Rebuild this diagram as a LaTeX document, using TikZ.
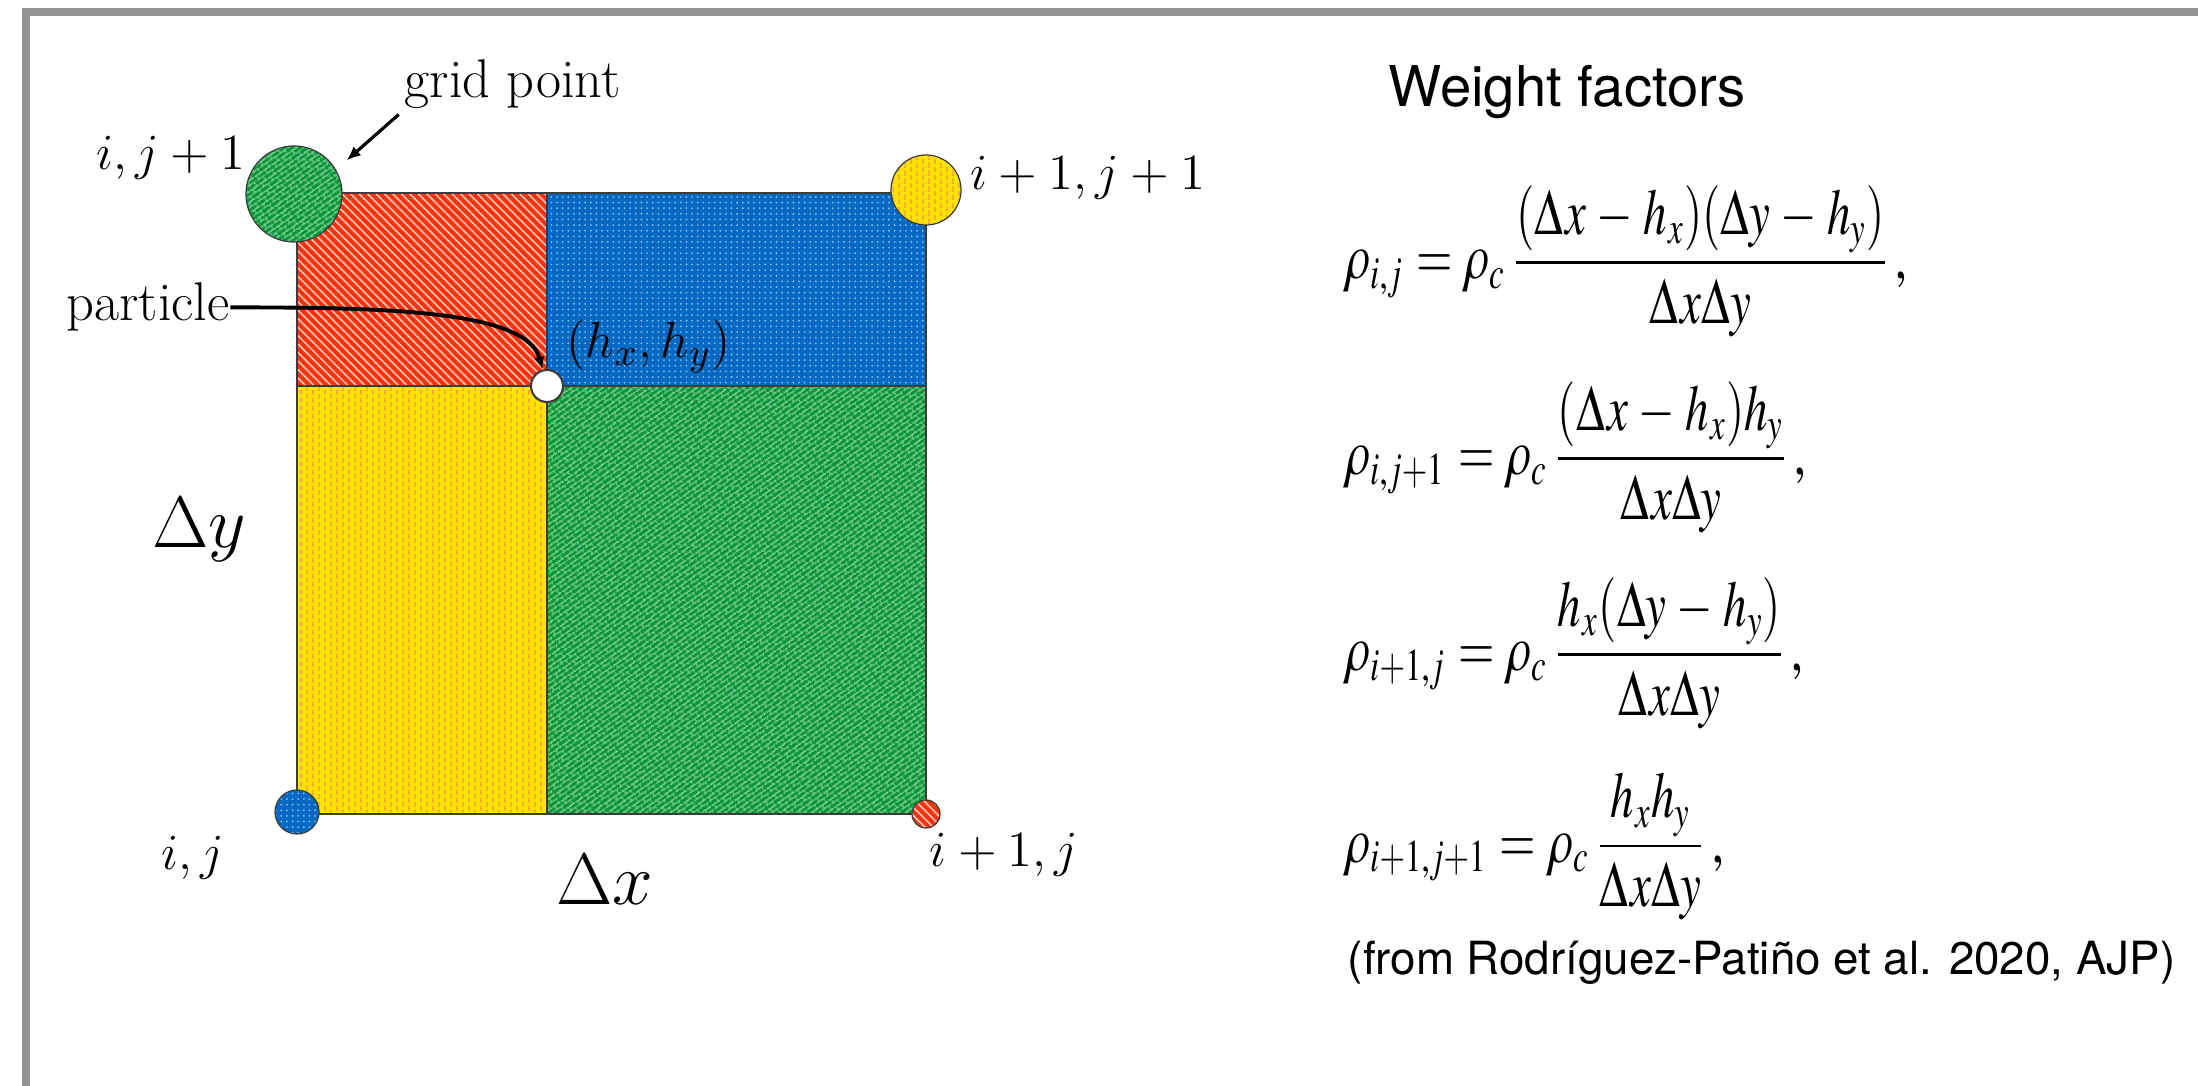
\documentclass[tikz,border=0pt]{standalone}
\usepackage[no-math]{fontspec}
\usepackage{graphicx}
\newfontfamily\helv{TeX Gyre Heros}
\usetikzlibrary{arrows.meta,patterns.meta,calc}
\DeclareMathVersion{times}
\SetSymbolFont{operators}{times}{OT1}{ztmcm}{m}{n}
\SetSymbolFont{letters}{times}{OML}{txmi}{m}{it}
\SetSymbolFont{symbols}{times}{OMS}{ztmcm}{m}{n}
\SetSymbolFont{largesymbols}{times}{OMX}{ztmcm}{m}{n}
\newcommand{\eqbox}[1]{\scalebox{0.72}[1]{$\displaystyle #1$}}
\definecolor{FrameGray}{RGB}{148,148,148}
\definecolor{EdgeGray}{RGB}{60,60,60}
\definecolor{CellRed}{RGB}{250,50,15}
\definecolor{StripeRed}{RGB}{255,200,185}
\definecolor{CellBlue}{RGB}{5,105,195}
\definecolor{DotBlue}{RGB}{130,185,235}
\definecolor{CellYellow}{RGB}{255,228,0}
\definecolor{DashYellow}{RGB}{250,135,95}
\definecolor{CellGreen}{RGB}{10,150,55}
\definecolor{BrickGreen}{RGB}{125,205,150}
% brick texture of the green cell
\tikzdeclarepattern{
  name=bricks,
  type=uncolored,
  bounding box={(0pt,0pt) and (3pt,2.6pt)},
  tile size={(3pt,2.6pt)},
  tile transformation={rotate=35},
  code={
    \draw[line width=0.35pt] (0pt,0.65pt) -- (3pt,0.65pt) (0pt,1.95pt) -- (3pt,1.95pt)
      (0.75pt,0.65pt) -- (0.75pt,1.95pt)
      (2.25pt,1.95pt) -- (2.25pt,2.6pt) (2.25pt,0pt) -- (2.25pt,0.65pt);
  }
}
% short upright dashes of the yellow cell
\tikzdeclarepattern{
  name=vdashes,
  type=uncolored,
  bounding box={(0pt,0pt) and (3.4pt,2.3pt)},
  tile size={(3.4pt,2.3pt)},
  code={
    \draw[line width=0.4pt] (0.85pt,0.45pt) -- (0.85pt,1.85pt)
      (2.55pt,0pt) -- (2.55pt,0.7pt) (2.55pt,1.6pt) -- (2.55pt,2.3pt);
  }
}
\begin{document}
\begin{tikzpicture}[x=0.01cm, y=-0.01cm, every node/.style={inner sep=0pt},
  edge/.style={draw=EdgeGray, line width=0.45pt},
  redcell/.style={preaction={fill=CellRed}, pattern={Lines[angle=-45,distance=1.7pt,line width=0.45pt]}, pattern color=StripeRed},
  bluecell/.style={preaction={fill=CellBlue}, pattern={Dots[distance=1.6pt,radius=0.3pt]}, pattern color=DotBlue},
  yellowcell/.style={preaction={fill=CellYellow}, pattern=vdashes, pattern color=DashYellow},
  greencell/.style={preaction={fill=CellGreen}, pattern=bricks, pattern color=BrickGreen},
  gridpt/.style={circle, draw=EdgeGray, line width=0.35pt},
  lbl/.style={font=\fontsize{15.5}{18}\selectfont},
  biglbl/.style={font=\fontsize{21}{24}\selectfont},
  eqn/.style={anchor=west, font=\fontsize{18.5}{22}\selectfont\mathversion{times}}]
\useasboundingbox (0,0) rectangle (2198,1086);
\draw[FrameGray, line width=2.3pt] (26,1100) -- (26,12) -- (2210,12);

% cells
\fill[redcell] (297,193) rectangle (547,386);
\fill[bluecell] (547,193) rectangle (926,386);
\fill[yellowcell] (297,386) rectangle (547,814);
\fill[greencell] (547,386) rectangle (926,814);
\draw[edge] (297,193) rectangle (926,814);
\draw[edge] (547,193) -- (547,814);
\draw[edge] (297,386) -- (926,386);

% grid points
\node[gridpt, greencell, minimum size=0.96cm] (gc) at (294,194) {};
\node[gridpt, yellowcell, minimum size=0.70cm] (yc) at (926,190) {};
\node[gridpt, bluecell, minimum size=0.44cm] (bc) at (297,812) {};
\node[gridpt, redcell, minimum size=0.28cm] (rc) at (926,814) {};
\node[circle, draw=EdgeGray, fill=white, line width=0.6pt, minimum size=0.32cm] (pc) at (547,386) {};

% labels
\node[lbl, anchor=base west] (gp) at (404,98) {grid point};
\node[lbl, anchor=base west] (pl) at (66,321) {particle};
\node[lbl, anchor=base east] (l01) at (246,170) {$i,j+1$};
\node[lbl, anchor=base west] (l11) at (970,190) {$i+1,j+1$};
\node[lbl, anchor=base west] (hxy) at (566,358) {$(h_x,h_y)$};
\node[lbl] (l00) at (193,858) {$i,j$};
\node[lbl] (l10) at (1004,855) {$i+1,j$};
\node[biglbl] (dy) at (199,530) {$\Delta y$};
\node[biglbl] (dx) at (605,880) {$\Delta x$};

\draw[line width=0.9pt, -{Latex[length=4pt,width=3.4pt]}, shorten <=2pt, shorten >=4pt] (gp.south west) -- (gc.30);
\draw[line width=1.1pt, -{Latex[length=3.6pt,width=3pt]}] (pl.east) to[out=0, in=105, out looseness=1.2, in looseness=0.5] (pc);

% weight factors
\node[anchor=base west, font=\helv\fontsize{16}{19}\selectfont] (wf) at (1388,107) {Weight factors};
\node[eqn] (eqa) at (1346,261) {\eqbox{\rho_{i,j}=\rho_c\,\frac{(\Delta x-h_x)(\Delta y-h_y)}{\Delta x\Delta y}\,,}};
\node[eqn] (eqb) at (1346,457) {\eqbox{\rho_{i,j+1}=\rho_c\,\frac{(\Delta x-h_x)h_y}{\Delta x\Delta y}\,,}};
\node[eqn] (eqc) at (1346,653) {\eqbox{\rho_{i+1,j}=\rho_c\,\frac{h_x(\Delta y-h_y)}{\Delta x\Delta y}\,,}};
\node[eqn] (eqd) at (1346,847) {\eqbox{\rho_{i+1,j+1}=\rho_c\,\frac{h_xh_y}{\Delta x\Delta y}\,,}};
\node[anchor=base east, font=\helv\fontsize{13}{16}\selectfont] (src) at (2176,974) {(from Rodríguez-Patiño et al. 2020, AJP)};
\end{tikzpicture}
\end{document}
